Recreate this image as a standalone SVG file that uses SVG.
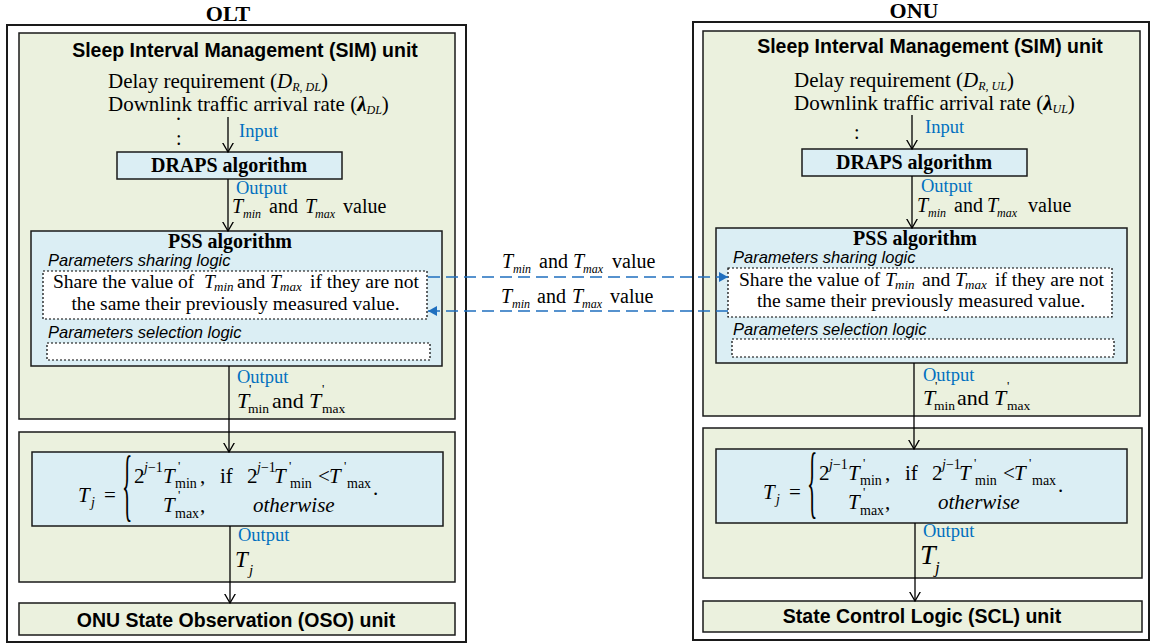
<svg xmlns="http://www.w3.org/2000/svg" width="1151" height="643" viewBox="0 0 1151 643">
<defs>
<style>
.frame{fill:none;stroke:#1a1a1a;stroke-width:2}
.green{fill:#EBF1DE;stroke:#1a1a1a;stroke-width:1.5}
.blue{fill:#DBEEF4;stroke:#1a1a1a;stroke-width:1.5}
.dotb{fill:#fff;stroke:#000;stroke-width:1.2;stroke-dasharray:2 2}
.ser{font-family:"Liberation Serif","Times New Roman",serif;fill:#000}
.san{font-family:"Liberation Sans",Arial,sans-serif;fill:#000}
.ttl{font-weight:bold;font-size:19.5px;text-anchor:middle}
.hd{font-weight:bold;font-size:22px;text-anchor:middle}
.alg{font-weight:bold;font-size:20px;text-anchor:middle}
.body{font-size:20px}
.req{font-size:21px}
.shr{font-size:19.5px}
.fm{font-size:21px}
.sub{font-size:12px}
.it{font-style:italic}
.lbl{fill:#0070C0;font-size:18.5px}
.plog{font-style:italic;font-size:16.5px}
.conn{stroke:#000;stroke-width:1.3;fill:none;marker-end:url(#open)}
.dash{stroke:#1F6FBF;stroke-width:1.6;stroke-dasharray:12 6;fill:none;marker-end:url(#tri)}
</style>
<marker id="open" viewBox="0 0 10 12" refX="9.5" refY="6" markerWidth="10" markerHeight="12" orient="auto" markerUnits="userSpaceOnUse">
<path d="M0,0.5 L9.5,6 L0,11.5" fill="none" stroke="#000" stroke-width="1.3"/>
</marker>
<marker id="tri" viewBox="0 0 9 10" refX="9" refY="5" markerWidth="9" markerHeight="10" orient="auto" markerUnits="userSpaceOnUse">
<path d="M0,0 L9,5 L0,10 Z" fill="#1F6FBF"/>
</marker>
</defs>

<!-- ================= OLT ================= -->
<g id="olt-frame">
<rect x="7" y="25" width="459" height="617" class="frame"/>
<text x="228" y="21" class="ser hd">OLT</text>
</g>

<g id="olt-sim">
<rect x="19" y="33" width="436" height="386" class="green"/>
<text x="245" y="57" class="san ttl">Sleep Interval Management (SIM) unit</text>
<text x="108" y="88" class="ser req">Delay requirement (<tspan class="it">D</tspan><tspan class="it sub" dy="3">R, DL</tspan><tspan dy="-3">)</tspan></text>
<text x="108" y="111" class="ser req">Downlink traffic arrival rate (<tspan font-weight="bold" font-style="italic">λ</tspan><tspan class="it sub" dy="3">DL</tspan><tspan dy="-3">)</tspan></text>
<text x="176" y="120" class="ser body">.</text>
<text x="176" y="144.5" class="ser body">:</text>
<text x="239" y="137" class="ser lbl">Input</text>
<text x="236" y="194" class="ser lbl">Output</text>
<text class="ser body"><tspan x="232" y="213" class="it">T</tspan><tspan x="243" y="218" class="it sub">min</tspan><tspan x="269" y="213">and</tspan><tspan x="305" y="213" class="it">T</tspan><tspan x="315" y="218" class="it sub">max</tspan><tspan x="343" y="213">value</tspan></text>
<text x="237" y="383" class="ser lbl">Output</text>
<text class="ser" font-size="22"><tspan x="237" y="408" class="it">T</tspan><tspan x="249" y="393" font-size="13">'</tspan><tspan x="248" y="413" font-size="13.5">min</tspan><tspan x="272" y="408">and</tspan><tspan x="309" y="408" class="it">T</tspan><tspan x="322" y="393" font-size="13">'</tspan><tspan x="322" y="413" font-size="13.5">max</tspan></text>
</g>

<g id="olt-draps">
<rect x="117" y="152" width="225" height="27" class="blue"/>
<text x="229" y="172" class="ser alg">DRAPS algorithm</text>
</g>

<g id="olt-pss">
<rect x="31" y="231" width="411" height="135" class="blue"/>
<text x="230" y="248" class="ser alg">PSS algorithm</text>
<text x="48" y="266" class="san plog">Parameters sharing logic</text>
<rect x="43" y="271" width="384" height="48" class="dotb"/>
<text class="ser shr"><tspan x="53" y="288">Share the value of</tspan><tspan x="204" y="288" class="it">T</tspan><tspan x="214" y="291" class="it" font-size="13">min</tspan><tspan x="237" y="288">and</tspan><tspan x="270" y="288" class="it">T</tspan><tspan x="280" y="291" class="it" font-size="13">max</tspan><tspan x="310" y="288">if they are not</tspan></text>
<text x="235.5" y="310" class="ser shr" text-anchor="middle">the same their previously measured value.</text>
<text x="48" y="338" class="san plog">Parameters selection logic</text>
<rect x="47" y="343" width="383" height="17" class="dotb"/>
</g>

<g id="olt-calc">
<rect x="19" y="432" width="436" height="150" class="green"/>
<rect x="32" y="452" width="411" height="74" class="blue"/>
<text class="ser fm">
<tspan x="78" y="502" class="it">T</tspan><tspan x="91" y="507" class="it" font-size="14">j</tspan>
<tspan x="104" y="502">=</tspan>
<tspan x="134" y="483">2</tspan><tspan x="144" y="472" font-size="14"><tspan class="it">j</tspan>−1</tspan>
<tspan x="163" y="483" class="it">T</tspan><tspan x="178" y="470" font-size="13">'</tspan><tspan x="175" y="488" font-size="14">min</tspan><tspan x="200" y="483">,</tspan>
<tspan x="220" y="483">if</tspan>
<tspan x="247" y="483">2</tspan><tspan x="257" y="472" font-size="14"><tspan class="it">j</tspan>−1</tspan>
<tspan x="274" y="483" class="it">T</tspan><tspan x="289" y="470" font-size="13">'</tspan><tspan x="290" y="488" font-size="14">min</tspan>
<tspan x="318" y="483">&lt;</tspan>
<tspan x="329" y="483" class="it">T</tspan><tspan x="344" y="470" font-size="13">'</tspan><tspan x="347" y="488" font-size="14">max</tspan>
<tspan x="373" y="495">.</tspan>
<tspan x="163" y="512" class="it">T</tspan><tspan x="178" y="499" font-size="13">'</tspan><tspan x="175" y="518" font-size="14">max</tspan><tspan x="200" y="512">,</tspan>
<tspan x="253" y="512" class="it">otherwise</tspan>
</text>
<text class="ser" font-size="24" transform="translate(122,511) scale(0.9,3.35)">{</text>
<text x="238" y="541" class="ser lbl">Output</text>
<text class="ser"><tspan x="235" y="567" class="it" font-size="23">T</tspan><tspan x="249" y="575" class="it" font-size="15">j</tspan></text>
</g>

<g id="olt-oso">
<rect x="19" y="603" width="436" height="32" class="green"/>
<text x="236" y="627" class="san ttl">ONU State Observation (OSO) unit</text>
</g>

<!-- ================= ONU ================= -->
<g id="onu-frame">
<rect x="693" y="22" width="456" height="618" class="frame"/>
<text x="914" y="18" class="ser hd">ONU</text>
</g>

<g id="onu-sim" transform="translate(685,-3)">
<rect x="18" y="34" width="437" height="385" class="green"/>
<text x="245" y="56" class="san ttl">Sleep Interval Management (SIM) unit</text>
<text x="109" y="90" class="ser req">Delay requirement (<tspan class="it">D</tspan><tspan class="it sub" dy="3">R, UL</tspan><tspan dy="-3">)</tspan></text>
<text x="109" y="113" class="ser req">Downlink traffic arrival rate (<tspan font-weight="bold" font-style="italic">λ</tspan><tspan class="it sub" dy="3">UL</tspan><tspan dy="-3">)</tspan></text>
<text x="169" y="141.5" class="ser body">:</text>
<text x="240" y="136" class="ser lbl">Input</text>
<text x="236" y="195" class="ser lbl">Output</text>
<text class="ser body"><tspan x="232" y="215" class="it">T</tspan><tspan x="243" y="220" class="it sub">min</tspan><tspan x="269" y="215">and</tspan><tspan x="302" y="215" class="it">T</tspan><tspan x="312" y="220" class="it sub">max</tspan><tspan x="343" y="215">value</tspan></text>
<text x="238" y="384" class="ser lbl">Output</text>
<text class="ser" font-size="22"><tspan x="238" y="408" class="it">T</tspan><tspan x="250" y="393" font-size="13">'</tspan><tspan x="249" y="413" font-size="13.5">min</tspan><tspan x="272" y="408">and</tspan><tspan x="309" y="408" class="it">T</tspan><tspan x="322" y="393" font-size="13">'</tspan><tspan x="322" y="413" font-size="13.5">max</tspan></text>
</g>

<g id="onu-draps" transform="translate(685,-3)">
<rect x="117" y="152" width="225" height="27" class="blue"/>
<text x="229" y="172" class="ser alg">DRAPS algorithm</text>
</g>

<g id="onu-pss" transform="translate(685,-3)">
<rect x="31" y="231" width="411" height="135" class="blue"/>
<text x="230" y="248" class="ser alg">PSS algorithm</text>
<text x="48" y="266" class="san plog">Parameters sharing logic</text>
<rect x="43" y="271" width="384" height="49" class="dotb"/>
<text class="ser shr"><tspan x="54" y="289">Share the value of</tspan><tspan x="200" y="289" class="it">T</tspan><tspan x="210" y="292" class="it" font-size="13">min</tspan><tspan x="237" y="289">and</tspan><tspan x="270" y="289" class="it">T</tspan><tspan x="280" y="292" class="it" font-size="13">max</tspan><tspan x="310" y="289">if they are not</tspan></text>
<text x="236" y="310" class="ser shr" text-anchor="middle">the same their previously measured value.</text>
<text x="48" y="338" class="san plog">Parameters selection logic</text>
<rect x="47" y="342" width="382" height="18" class="dotb"/>
</g>

<g id="onu-calc" transform="translate(685,-3)">
<rect x="18" y="431" width="439" height="150" class="green"/>
<rect x="31" y="452" width="411" height="74" class="blue"/>
<text class="ser fm">
<tspan x="78" y="502" class="it">T</tspan><tspan x="91" y="507" class="it" font-size="14">j</tspan>
<tspan x="104" y="502">=</tspan>
<tspan x="134" y="483">2</tspan><tspan x="144" y="472" font-size="14"><tspan class="it">j</tspan>−1</tspan>
<tspan x="163" y="483" class="it">T</tspan><tspan x="178" y="470" font-size="13">'</tspan><tspan x="175" y="488" font-size="14">min</tspan><tspan x="200" y="483">,</tspan>
<tspan x="220" y="483">if</tspan>
<tspan x="247" y="483">2</tspan><tspan x="257" y="472" font-size="14"><tspan class="it">j</tspan>−1</tspan>
<tspan x="274" y="483" class="it">T</tspan><tspan x="289" y="470" font-size="13">'</tspan><tspan x="290" y="488" font-size="14">min</tspan>
<tspan x="318" y="483">&lt;</tspan>
<tspan x="329" y="483" class="it">T</tspan><tspan x="344" y="470" font-size="13">'</tspan><tspan x="347" y="488" font-size="14">max</tspan>
<tspan x="373" y="495">.</tspan>
<tspan x="163" y="512" class="it">T</tspan><tspan x="178" y="499" font-size="13">'</tspan><tspan x="175" y="518" font-size="14">max</tspan><tspan x="200" y="512">,</tspan>
<tspan x="253" y="512" class="it">otherwise</tspan>
</text>
<text class="ser" font-size="24" transform="translate(122,511) scale(0.9,3.35)">{</text>
<text x="238" y="540" class="ser lbl">Output</text>
<text class="ser"><tspan x="235" y="567" class="it" font-size="28">T</tspan><tspan x="250" y="576" class="it" font-size="17">j</tspan></text>
</g>

<g id="onu-scl" transform="translate(685,-3)">
<rect x="18" y="604" width="439" height="31" class="green"/>
<text x="237" y="626" class="san ttl">State Control Logic (SCL) unit</text>
</g>

<!-- ================= connectors ================= -->
<g id="connectors">
<line x1="228" y1="117" x2="228" y2="152" class="conn"/>
<line x1="228" y1="179" x2="228" y2="231" class="conn"/>
<line x1="229" y1="366" x2="229" y2="452" class="conn"/>
<line x1="230" y1="526" x2="230" y2="603" class="conn"/>
<line x1="912" y1="115" x2="912" y2="149" class="conn"/>
<line x1="912" y1="176" x2="912" y2="228" class="conn"/>
<line x1="914" y1="363" x2="914" y2="449" class="conn"/>
<line x1="915" y1="523" x2="915" y2="601" class="conn"/>
<line x1="428" y1="277" x2="728" y2="277" class="dash"/>
<line x1="728" y1="311" x2="428" y2="311" class="dash"/>
<text class="ser body"><tspan x="502" y="268" class="it">T</tspan><tspan x="513" y="273" class="it sub">min</tspan><tspan x="539" y="268">and</tspan><tspan x="573" y="268" class="it">T</tspan><tspan x="583" y="273" class="it sub">max</tspan><tspan x="612" y="268">value</tspan></text>
<text class="ser body"><tspan x="501" y="303" class="it">T</tspan><tspan x="512" y="308" class="it sub">min</tspan><tspan x="537" y="303">and</tspan><tspan x="572" y="303" class="it">T</tspan><tspan x="582" y="308" class="it sub">max</tspan><tspan x="610" y="303">value</tspan></text>
</g>
</svg>
